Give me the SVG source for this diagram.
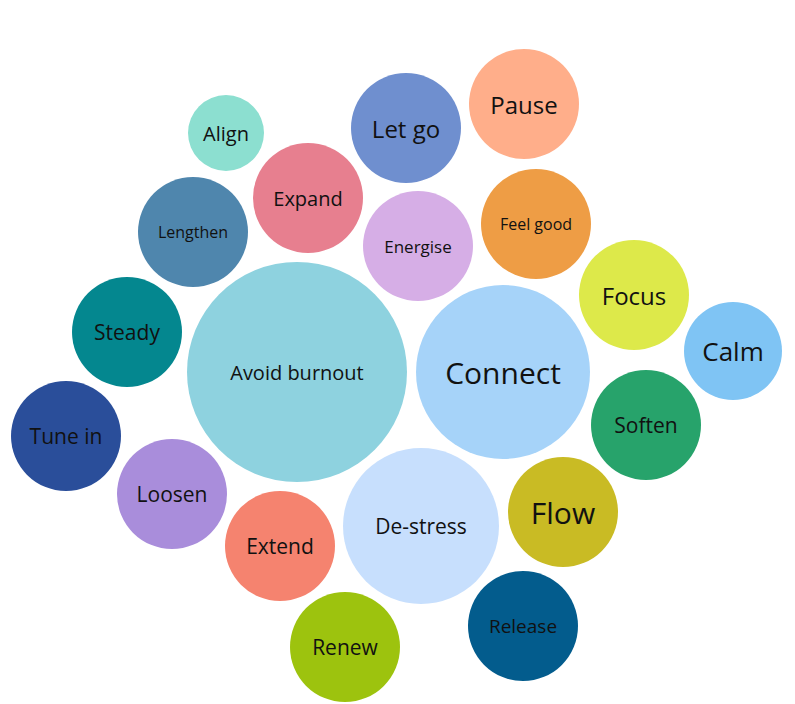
<svg xmlns="http://www.w3.org/2000/svg" width="795" height="704" viewBox="0 0 795 704">
<style>text{font-family:"Open Sans","Noto Sans",sans-serif;fill:#111;text-anchor:middle;dominant-baseline:central}</style>
<rect width="795" height="704" fill="#fff"/>
<g id="connectors"/>
<g id="align"><circle cx="226" cy="133" r="38" fill="#8cdfd0"/><text x="226" y="133" font-size="20">Align</text></g>
<g id="letgo"><circle cx="406" cy="128" r="55" fill="#6f8fcf"/><text x="406" y="128" font-size="24">Let go</text></g>
<g id="pause"><circle cx="524" cy="104" r="55" fill="#ffae8a"/><text x="524" y="104" font-size="24">Pause</text></g>
<g id="expand"><circle cx="308" cy="198" r="55" fill="#e77f8f"/><text x="308" y="198" font-size="20">Expand</text></g>
<g id="lengthen"><circle cx="193" cy="232" r="55" fill="#4f86ad"/><text x="193" y="232" font-size="16">Lengthen</text></g>
<g id="energise"><circle cx="418" cy="246" r="55" fill="#d6aee6"/><text x="418" y="246" font-size="17">Energise</text></g>
<g id="feelgood"><circle cx="536" cy="224" r="55" fill="#ee9d45"/><text x="536" y="224" font-size="16">Feel good</text></g>
<g id="focus"><circle cx="634" cy="295" r="55" fill="#dde94a"/><text x="634" y="295" font-size="24">Focus</text></g>
<g id="steady"><circle cx="127" cy="332" r="55" fill="#04878f"/><text x="127" y="332" font-size="21">Steady</text></g>
<g id="avoid"><circle cx="297" cy="372" r="110" fill="#8ed2df"/><text x="297" y="372" font-size="20">Avoid burnout</text></g>
<g id="connect"><circle cx="503" cy="372" r="87" fill="#a6d3f9"/><text x="503" y="372" font-size="30">Connect</text></g>
<g id="calm"><circle cx="733" cy="351" r="49" fill="#7fc4f4"/><text x="733" y="351" font-size="26">Calm</text></g>
<g id="soften"><circle cx="646" cy="425" r="55" fill="#27a36b"/><text x="646" y="425" font-size="21">Soften</text></g>
<g id="tunein"><circle cx="66" cy="436" r="55" fill="#2a4e9a"/><text x="66" y="436" font-size="21">Tune in</text></g>
<g id="loosen"><circle cx="172" cy="494" r="55" fill="#a98ddb"/><text x="172" y="494" font-size="21">Loosen</text></g>
<g id="destress"><circle cx="421" cy="526" r="78" fill="#c7dffd"/><text x="421" y="526" font-size="21">De-stress</text></g>
<g id="flow"><circle cx="563" cy="512" r="55" fill="#c9bb24"/><text x="563" y="512" font-size="30">Flow</text></g>
<g id="extend"><circle cx="280" cy="546" r="55" fill="#f5836f"/><text x="280" y="546" font-size="21">Extend</text></g>
<g id="renew"><circle cx="345" cy="647" r="55" fill="#9dc30e"/><text x="345" y="647" font-size="21">Renew</text></g>
<g id="release"><circle cx="523" cy="626" r="55" fill="#035c8d"/><text x="523" y="626" font-size="19">Release</text></g>
</svg>
